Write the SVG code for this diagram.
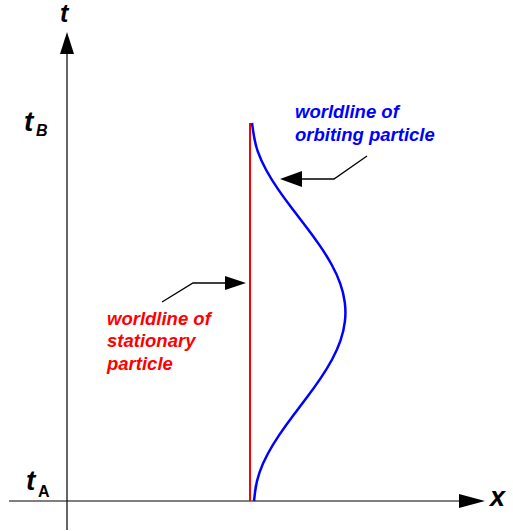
<svg xmlns="http://www.w3.org/2000/svg" width="513" height="531" viewBox="0 0 513 531">
<style>
.ax{stroke:#000;stroke-width:1.2;fill:none}
.lbl{font-family:"Liberation Sans",Arial,sans-serif;font-weight:bold;font-style:italic;fill:#000}
.up{font-style:normal}
.cap{font-family:"Liberation Sans",Arial,sans-serif;font-weight:bold;font-style:italic;font-size:18.5px}
.call{stroke:#000;stroke-width:1.3;fill:none}
.head{fill:#000}
</style>
<rect width="513" height="531" fill="#fff"/>
<g id="axes">
<line class="ax" x1="67" y1="530" x2="67" y2="52"/>
<polygon class="head" points="67,32 60,54 74,54"/>
<line class="ax" x1="9" y1="501" x2="461" y2="501"/>
<polygon class="head" points="485,501 459,494 459,508"/>
</g>
<g id="axis-labels">
<text class="lbl" x="60" y="22" font-size="25">t</text>
<text class="lbl" x="24" y="131" font-size="28">t</text>
<text class="lbl" x="36" y="136" font-size="16">B</text>
<text class="lbl" x="26" y="490" font-size="28">t</text>
<text class="lbl up" x="38" y="497" font-size="16">A</text>
<text class="lbl" x="490" y="506" font-size="27">x</text>
</g>
<g id="stationary-worldline">
<line x1="250" y1="123" x2="250" y2="501" stroke="#f00" stroke-width="2"/>
</g>
<g id="orbiting-worldline">
<path fill="none" stroke="#00f" stroke-width="2.5" d="M252,123 Q254.4,141.9 257.75,151.35 Q261.1,160.8 266.3,170.25 Q271.5,179.7 278,189.15 Q284.5,198.6 291.75,208.05 Q299,217.5 306.25,226.95 Q313.5,236.4 320,245.85 Q326.5,255.3 331.7,264.75 Q336.9,274.2 340.25,283.65 Q343.6,293.1 344.8,302.55 Q346,312 344.9,321.45 Q343.8,330.9 340.55,340.35 Q337.3,349.8 332.2,359.25 Q327.1,368.7 320.7,378.15 Q314.3,387.6 307.15,397.05 Q300,406.5 292.85,415.95 Q285.7,425.4 279.3,434.85 Q272.9,444.3 267.8,453.75 Q262.7,463.2 259.45,472.65 Q256.2,482.1 255.1,491.55 L254,501"/>
</g>
<g id="connectors">
<polyline class="call" points="367,156 334,179 300,179"/>
<polygon class="head" points="280,179 302,171 302,187"/>
<polyline class="call" points="162,302 193,283 227,283"/>
<polygon class="head" points="246,283 225,276 225,290"/>
</g>
<g id="label-orbiting" fill="#00f" class="cap">
<text x="295" y="118">worldline of</text>
<text x="295" y="141">orbiting particle</text>
</g>
<g id="label-stationary" fill="#f00" class="cap">
<text x="107" y="325">worldline of</text>
<text x="107" y="347">stationary</text>
<text x="107" y="370">particle</text>
</g>
</svg>
